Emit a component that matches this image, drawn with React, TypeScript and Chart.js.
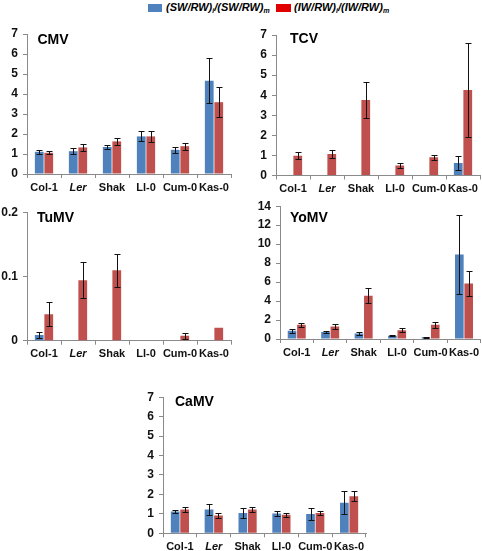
import React, { useEffect, useRef } from 'react';
import { Chart, registerables } from 'chart.js';
Chart.register(...registerables);

const categories = ['Col-1', 'Ler', 'Shak', 'Ll-0', 'Cum-0', 'Kas-0'];

// CMV
const cmvSW = [1.11, 1.14, 1.35, 1.88, 1.21, 4.66];
const cmvSWErr = [0.1, 0.14, 0.12, 0.25, 0.14, 1.12];
const cmvIW = [1.06, 1.33, 1.63, 1.88, 1.39, 3.59];
const cmvIWErr = [0.08, 0.18, 0.19, 0.26, 0.17, 0.74];

// TCV
const tcvSW = [0, null, 0.03, null, null, 0.62];
const tcvSWErr = [null, null, null, null, null, 0.33];
const tcvIW = [0.99, 1.07, 3.76, 0.5, 0.91, 4.26];
const tcvIWErr = [0.17, 0.22, 0.9, 0.12, 0.12, 2.34];

// TuMV
const tumvSW = [0.009, null, null, null, null, null];
const tumvSWErr = [0.004, null, null, null, null, null];
const tumvIW = [0.0415, 0.0945, 0.11, null, 0.0078, 0.0203];
const tumvIWErr = [0.019, 0.0285, 0.026, null, 0.005, null];

// YoMV
const yomvSW = [0.87, 0.74, 0.58, 0.34, 0.19, 8.9];
const yomvSWErr = [0.2, 0.12, 0.15, 0.07, 0.07, 4.2];
const yomvIW = [1.5, 1.32, 4.55, 0.92, 1.5, 5.85];
const yomvIWErr = [0.21, 0.26, 0.8, 0.19, 0.34, 1.3];

// CaMV
const camvSW = [1.12, 1.23, 1.05, 1.02, 0.99, 1.57];
const camvSWErr = [0.1, 0.3, 0.24, 0.12, 0.3, 0.58];
const camvIW = [1.22, 0.92, 1.22, 0.96, 1.04, 1.9];
const camvIWErr = [0.15, 0.11, 0.14, 0.1, 0.09, 0.26];

const BLUE = '#4F81BD';
const RED = '#C0504D';
const FONT = '"Liberation Sans", Arial, sans-serif';

type Rect = { l: number; t: number; r: number; b: number };
type Panel = {
  title: string;
  sw: (number | null)[];
  swErr: (number | null)[];
  iw: (number | null)[];
  iwErr: (number | null)[];
  max: number;
  step: number;
  canvas: Rect;
  plot: Rect;
  titlePos: { x: number; y: number };
};

const panels: Panel[] = [
  {
    title: 'CMV', sw: cmvSW, swErr: cmvSWErr, iw: cmvIW, iwErr: cmvIWErr, max: 7, step: 1,
    canvas: { l: 0, t: 20, r: 240, b: 200 }, plot: { l: 27, t: 34, r: 231, b: 174 },
    titlePos: { x: 37.5, y: 43.5 },
  },
  {
    title: 'TCV', sw: tcvSW, swErr: tcvSWErr, iw: tcvIW, iwErr: tcvIWErr, max: 7, step: 1,
    canvas: { l: 240, t: 20, r: 482, b: 200 }, plot: { l: 276, t: 35, r: 480, b: 175.5 },
    titlePos: { x: 290, y: 42.5 },
  },
  {
    title: 'TuMV', sw: tumvSW, swErr: tumvSWErr, iw: tumvIW, iwErr: tumvIWErr, max: 0.2, step: 0.1,
    canvas: { l: 0, t: 200, r: 240, b: 360 }, plot: { l: 27, t: 212.7, r: 231, b: 340.7 },
    titlePos: { x: 37, y: 222 },
  },
  {
    title: 'YoMV', sw: yomvSW, swErr: yomvSWErr, iw: yomvIW, iwErr: yomvIWErr, max: 14, step: 2,
    canvas: { l: 240, t: 194, r: 482, b: 360 }, plot: { l: 280, t: 201.7, r: 482, b: 339 },
    titlePos: { x: 290, y: 221.7 },
  },
  {
    title: 'CaMV', sw: camvSW, swErr: camvSWErr, iw: camvIW, iwErr: camvIWErr, max: 7, step: 1,
    canvas: { l: 130, t: 385, r: 390, b: 551 }, plot: { l: 163, t: 397, r: 366, b: 533.3 },
    titlePos: { x: 175, y: 405.5 },
  },
];

const errorBarPlugin = {
  id: 'errorBars',
  afterDatasetsDraw(chart: any) {
    const ctx = chart.ctx;
    const ys = chart.scales.y;
    chart.data.datasets.forEach((ds: any, di: number) => {
      const errs = ds.errors as (number | null)[];
      if (!errs) return;
      const meta = chart.getDatasetMeta(di);
      meta.data.forEach((bar: any, i: number) => {
        const v = ds.data[i];
        const e = errs[i];
        if (v == null || e == null || e <= 0) return;
        const x = Math.round(bar.x) + 0.5;
        const yt = Math.round(ys.getPixelForValue(v + e)) + 0.5;
        const yb = Math.round(ys.getPixelForValue(v - e)) + 0.5;
        ctx.save();
        ctx.strokeStyle = '#111';
        ctx.lineWidth = 1;
        ctx.beginPath();
        ctx.moveTo(x, yt);
        ctx.lineTo(x, yb);
        ctx.moveTo(x - 3, yt);
        ctx.lineTo(x + 3, yt);
        ctx.moveTo(x - 3, yb);
        ctx.lineTo(x + 3, yb);
        ctx.stroke();
        ctx.restore();
      });
    });
  },
};

const panelTitlePlugin = {
  id: 'panelTitle',
  afterDraw(chart: any, _args: any, opts: any) {
    if (!opts || !opts.text) return;
    const ctx = chart.ctx;
    ctx.save();
    ctx.font = `bold 14px ${FONT}`;
    ctx.fillStyle = '#000';
    ctx.textBaseline = 'alphabetic';
    ctx.textAlign = 'left';
    ctx.fillText(opts.text, opts.x, opts.y);
    ctx.restore();
  },
};

function PanelChart({ p }: { p: Panel }) {
  const ref = useRef<HTMLCanvasElement | null>(null);
  const w = p.canvas.r - p.canvas.l;
  const h = p.canvas.b - p.canvas.t;
  useEffect(() => {
    if (!ref.current) return;
    const yWidth = p.plot.l - p.canvas.l;
    const xHeight = p.canvas.b - p.plot.b;
    const chart = new Chart(ref.current, {
      type: 'bar',
      data: {
        labels: categories,
        datasets: [
          { label: 'SW', data: p.sw, backgroundColor: BLUE, errors: p.swErr } as any,
          { label: 'IW', data: p.iw, backgroundColor: RED, errors: p.iwErr } as any,
        ],
      },
      options: {
        responsive: false,
        animation: false,
        devicePixelRatio: 1,
        layout: {
          padding: {
            left: 0,
            top: p.plot.t - p.canvas.t,
            right: p.canvas.r - p.plot.r,
            bottom: 0,
          },
        },
        datasets: {
          bar: { categoryPercentage: 0.56, barPercentage: 0.92 },
        },
        plugins: {
          legend: { display: false },
          tooltip: { enabled: false },
          panelTitle: {
            text: p.title,
            x: p.titlePos.x - p.canvas.l,
            y: p.titlePos.y - p.canvas.t,
          },
        } as any,
        scales: {
          x: {
            offset: true,
            grid: {
              display: true,
              drawOnChartArea: false,
              drawTicks: true,
              tickLength: 4,
              color: '#8a8a8a',
              offset: true,
            },
            border: { display: true, color: '#8a8a8a', width: 1 },
            ticks: {
              autoSkip: false,
              maxRotation: 0,
              minRotation: 0,
              padding: 3,
              color: '#111',
              font: (c: any) => ({
                family: FONT,
                size: 11,
                weight: 'bold',
                style: c.index === 1 ? 'italic' : 'normal',
              }),
            },
            afterFit: (s: any) => {
              s.height = xHeight;
            },
          },
          y: {
            min: 0,
            max: p.max,
            grid: {
              display: true,
              drawOnChartArea: false,
              drawTicks: true,
              tickLength: 4,
              color: '#8a8a8a',
            },
            border: { display: true, color: '#8a8a8a', width: 1 },
            ticks: {
              stepSize: p.step,
              padding: 5,
              color: '#111',
              font: { family: FONT, size: 12, weight: 'bold' },
              callback: (v: any) => String(Math.round(Number(v) * 100) / 100),
            },
            afterFit: (s: any) => {
              s.width = yWidth;
            },
          },
        },
      } as any,
      plugins: [errorBarPlugin, panelTitlePlugin],
    });
    return () => chart.destroy();
  }, [p]);
  return (
    <canvas
      ref={ref}
      width={w}
      height={h}
      style={{ position: 'absolute', left: p.canvas.l, top: p.canvas.t, width: w, height: h }}
    />
  );
}

const subStyle: React.CSSProperties = { fontSize: 7, position: 'relative', top: 2 };

export default function App() {
  return (
    <div style={{ position: 'absolute', left: 0, top: 0, width: 482, height: 551, background: '#fff', overflow: 'hidden' }}>
      <div style={{ position: 'absolute', left: 148, top: 4, width: 14, height: 8, background: BLUE }} />
      <div style={{ position: 'absolute', left: 166, top: 1, font: `italic bold 11px ${FONT}`, whiteSpace: 'nowrap', lineHeight: '13px' }}>
        (SW/RW)<span style={subStyle}>i</span>/(SW/RW)<span style={subStyle}>m</span>
      </div>
      <div style={{ position: 'absolute', left: 276, top: 4, width: 15, height: 8, background: '#E00000' }} />
      <div style={{ position: 'absolute', left: 294, top: 1, font: `italic bold 11px ${FONT}`, whiteSpace: 'nowrap', lineHeight: '13px' }}>
        (IW/RW)<span style={subStyle}>i</span>/(IW/RW)<span style={subStyle}>m</span>
      </div>
      {panels.map((p) => (
        <PanelChart key={p.title} p={p} />
      ))}
    </div>
  );
}
